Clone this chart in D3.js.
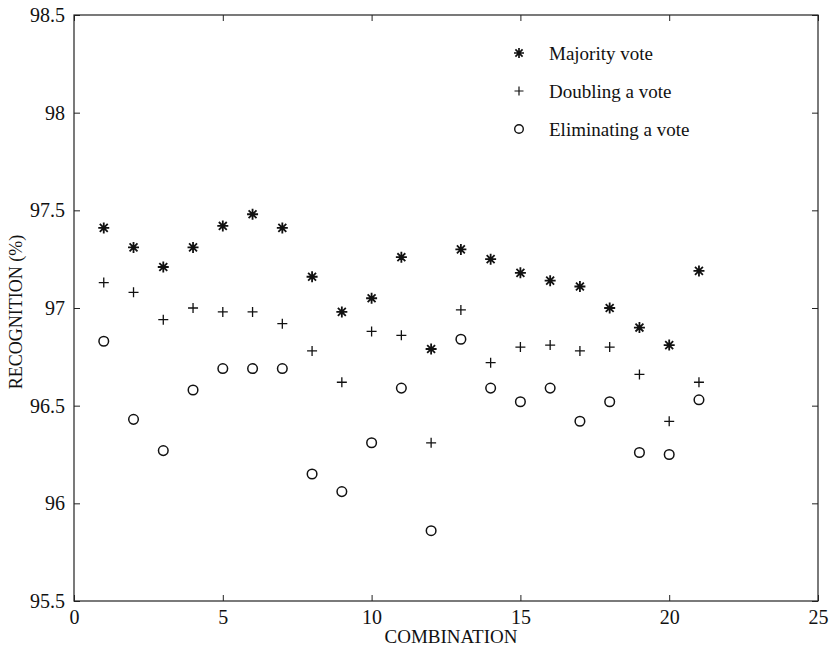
<!DOCTYPE html>
<html>
<head>
<meta charset="utf-8">
<script src="https://cdn.jsdelivr.net/npm/d3@7"></script>
<style>
  body { margin: 0; background: #fff; overflow: hidden; }
  svg { display: block; }
  svg text { font-family: "Liberation Serif", "Times New Roman", serif; fill: #111; }
</style>
</head>
<body>
<div id="chart"></div>
<script>
// combination index 1..21
const combinations = d3.range(1, 22)
const majorityVote = [97.41, 97.31, 97.21, 97.31, 97.42, 97.48, 97.41, 97.16, 96.98, 97.05, 97.26,
  96.79, 97.30, 97.25, 97.18, 97.14, 97.11, 97.00, 96.90, 96.81, 97.19]
const doublingVote = [97.13, 97.08, 96.94, 97.00, 96.98, 96.98, 96.92, 96.78, 96.62, 96.88, 96.86,
  96.31, 96.99, 96.72, 96.80, 96.81, 96.78, 96.80, 96.66, 96.42, 96.62]
const eliminatingVote = [96.83, 96.43, 96.27, 96.58, 96.69, 96.69, 96.69, 96.15, 96.06, 96.31, 96.59,
  95.86, 96.84, 96.59, 96.52, 96.59, 96.42, 96.52, 96.26, 96.25, 96.53]
const seriesNames = ['Majority vote', 'Doubling a vote', 'Eliminating a vote']
const xTicks = [0, 5, 10, 15, 20, 25]
const yTicks = [95.5, 96, 96.5, 97, 97.5, 98, 98.5]

const width = 833, height = 649
const margin = {top: 15, right: 15, bottom: 48, left: 74}
const innerWidth = width - margin.left - margin.right
const innerHeight = height - margin.top - margin.bottom

const svg = d3.select('#chart').append('svg')
  .attr('width', width)
  .attr('height', height)

const g = svg.append('g')
  .attr('transform', `translate(${margin.left},${margin.top})`)

const xScale = d3.scaleLinear().domain([0, 25]).range([0, innerWidth])
const yScale = d3.scaleLinear().domain([95.5, 98.5]).range([innerHeight, 0])

// MATLAB style: ticks point inwards, box on all sides
const fmt = d => String(d)
const xAxisG = g.append('g').attr('transform', `translate(0,${innerHeight})`)
  .call(d3.axisBottom(xScale).tickValues(xTicks).tickFormat(fmt).tickSize(-6).tickPadding(9))
const yAxisG = g.append('g')
  .call(d3.axisLeft(yScale).tickValues(yTicks).tickFormat(fmt).tickSize(-6).tickPadding(9))
const topG = g.append('g')
  .call(d3.axisTop(xScale).tickValues(xTicks).tickFormat('').tickSize(-6))
const rightG = g.append('g').attr('transform', `translate(${innerWidth},0)`)
  .call(d3.axisRight(yScale).tickValues(yTicks).tickFormat('').tickSize(-6))

for (const a of [xAxisG, yAxisG, topG, rightG]) {
  a.select('.domain').remove()
  a.selectAll('line').attr('stroke', '#222').attr('stroke-width', 1)
  a.selectAll('text').style('font-size', '20px').attr('fill', '#111')
}

g.append('rect')
  .attr('width', innerWidth)
  .attr('height', innerHeight)
  .attr('fill', 'none')
  .attr('stroke', '#222')
  .attr('stroke-width', 1.2)

// axis labels
svg.append('text')
  .attr('x', margin.left + innerWidth / 2 + 5)
  .attr('y', height - 6)
  .attr('text-anchor', 'middle')
  .style('font-size', '19px')
  .text('COMBINATION')

svg.append('text')
  .attr('transform', `translate(22,${margin.top + innerHeight / 2 + 4}) rotate(-90)`)
  .attr('text-anchor', 'middle')
  .style('font-size', '18px')
  .text('RECOGNITION (%)')

// marker paths
const starPath = h => {
  const d = h * 0.72
  return `M0,${-h}V${h}M${-h},0H${h}M${-d},${-d}L${d},${d}M${-d},${d}L${d},${-d}`
}
const plusPath = h => `M0,${-h}V${h}M${-h},0H${h}`

const points = combinations.map((c, i) => ({c, maj: majorityVote[i], dbl: doublingVote[i], elim: eliminatingVote[i]}))

g.selectAll('.star').data(points).join('path')
  .attr('class', 'star')
  .attr('transform', d => `translate(${xScale(d.c)},${yScale(d.maj)})`)
  .attr('d', starPath(5.5))
  .attr('fill', 'none')
  .attr('stroke', '#111')
  .attr('stroke-width', 1.8)

g.selectAll('.plus').data(points).join('path')
  .attr('class', 'plus')
  .attr('transform', d => `translate(${xScale(d.c)},${yScale(d.dbl)})`)
  .attr('d', plusPath(5))
  .attr('fill', 'none')
  .attr('stroke', '#111')
  .attr('stroke-width', 1.3)

g.selectAll('.ring').data(points).join('circle')
  .attr('class', 'ring')
  .attr('cx', d => xScale(d.c))
  .attr('cy', d => yScale(d.elim))
  .attr('r', 4.8)
  .attr('fill', 'none')
  .attr('stroke', '#111')
  .attr('stroke-width', 1.5)

// legend
const legendG = svg.append('g').attr('class', 'legend')
const legendMarks = [starPath(5), plusPath(4.5)]
legendG.selectAll('path').data(seriesNames.slice(0, 2)).join('path')
  .attr('transform', (_, i) => `translate(519,${53 + 38 * i})`)
  .attr('d', (_, i) => legendMarks[i])
  .attr('fill', 'none')
  .attr('stroke', '#111')
  .attr('stroke-width', (_, i) => i === 0 ? 1.7 : 1.2)
legendG.append('circle')
  .attr('cx', 519).attr('cy', 53 + 76).attr('r', 4.3)
  .attr('fill', 'none').attr('stroke', '#111').attr('stroke-width', 1.4)
legendG.selectAll('text').data(seriesNames).join('text')
  .attr('x', 549)
  .attr('y', (_, i) => 53 + 38 * i)
  .attr('dy', '0.35em')
  .style('font-size', '19px')
  .text(d => d)
</script>
</body>
</html>
